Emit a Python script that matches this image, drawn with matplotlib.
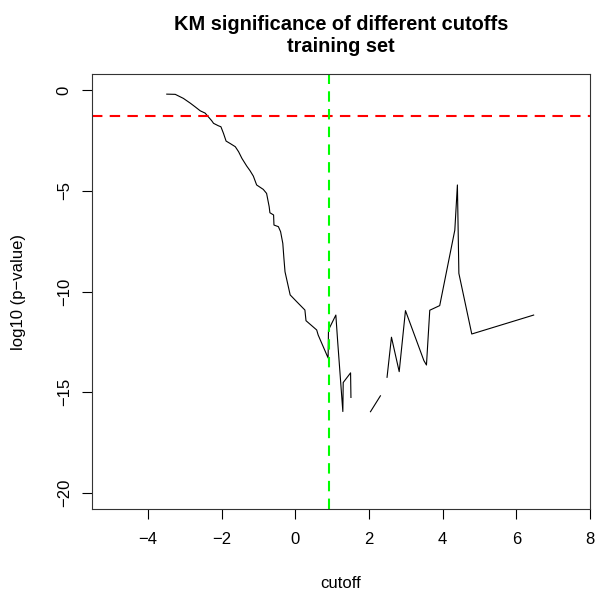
import matplotlib
matplotlib.use('Agg')
import matplotlib.pyplot as plt
import numpy as np

plt.rcParams['font.family'] = ['Liberation Sans', 'DejaVu Sans']

# cutoff values and log10 p-values (NaN = missing, gives the gaps)
cutoff = [-3.49, -3.26, -3.04, -2.85, -2.72, -2.58, -2.45, -2.36, -2.27, -2.22,
          -2.09, -2.02, -1.95, -1.88, -1.77, -1.63, -1.54, -1.45, -1.32, -1.23,
          -1.14, -1.05, -0.87, -0.78, -0.71, -0.69, -0.59, -0.58, -0.46, -0.40,
          -0.34, -0.31, -0.28, -0.14, 0.04, 0.26, 0.29, 0.58, 0.62, 0.89,
          0.90, 1.10, 1.15, 1.29, 1.30, 1.50, 1.51, 1.78, 2.04, 2.31,
          2.40, 2.49, 2.61, 2.82, 2.99, 3.49, 3.56, 3.65, 3.92, 4.33,
          4.40, 4.44, 4.79, 6.47]
logp = [-0.20, -0.21, -0.41, -0.65, -0.83, -1.03, -1.14, -1.33, -1.52, -1.65,
        -1.77, -1.82, -2.15, -2.53, -2.65, -2.81, -3.06, -3.39, -3.77, -4.00,
        -4.27, -4.71, -4.93, -5.13, -5.79, -6.09, -6.20, -6.70, -6.78, -7.03,
        -7.61, -8.35, -9.02, -10.17, -10.51, -10.92, -11.45, -11.91, -12.16, -13.30,
        -11.91, -11.17, -12.49, -15.96, -14.52, -14.04, -15.26, np.nan, -15.97, -15.18,
        np.nan, -14.26, -12.27, -13.98, -10.95, -13.43, -13.65, -10.93, -10.70, -6.95,
        -4.71, -9.10, -12.11, -11.17]

sig_level = np.log10(0.05)
best_cutoff = 0.92

W, H = 596, 595
fig = plt.figure(figsize=(W / 100, H / 100), dpi=100)
# plot box: x 92..590, y 74..509 (pixels)
ax = fig.add_axes([92 / W, 1 - 509 / H, 498 / W, 435 / H])

ax.plot(cutoff, logp, color='black', lw=0.8)
ax.axhline(sig_level, color='#ff0000', lw=1.5, ls=(0, (5, 3.5)))
ax.axvline(best_cutoff, color='#00ff00', lw=1.5, ls=(0, (5, 3.5)))

ax.set_xlim(-5.52, 8.0)
ax.set_ylim(-20.8, 0.8)
ax.set_xticks([-4, -2, 0, 2, 4, 6, 8])
ax.set_yticks([0, -5, -10, -15, -20])
ax.tick_params(direction='out', length=7, width=0.8, labelsize=12)
ax.tick_params(axis='x', pad=9.5)
ax.tick_params(axis='y', pad=7.5)
for lab in ax.get_yticklabels():
    lab.set_rotation(90)
    lab.set_va('center')
for s in ax.spines.values():
    s.set_linewidth(0.8)
    s.set_color('#333333')

ax.set_xlabel('cutoff', fontsize=12)
ax.xaxis.set_label_coords(0.5, (509 - 583) / 435)
ax.xaxis.label.set_va('center')
ax.set_ylabel('log10 (p\u2212value)', fontsize=12)
ax.yaxis.set_label_coords((18.5 - 92) / 498, 0.5)
ax.yaxis.label.set_va('center')

# two-line title centred over the plot box
cx = (92 + 590) / 2 / W
fig.text(cx, 1 - 29.5 / H, 'KM significance of different cutoffs',
         ha='center', va='baseline', fontsize=14.4, fontweight='bold')
fig.text(cx, 1 - 52 / H, 'training set',
         ha='center', va='baseline', fontsize=14.4, fontweight='bold')

plt.savefig('out.png', dpi=100)
plt.close()
